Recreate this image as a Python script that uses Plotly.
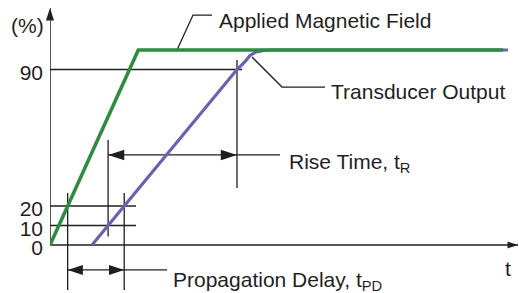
import numpy as np
import plotly.graph_objects as go

# ---------------- data (time in arbitrary units, amplitude in %) ----------------
field_t = [0.0, 8.83, 45.3]            # applied magnetic field
field_pct = [0, 100, 100]
output_t = [4.2, 18.7, 19.5, 20.0, 20.6, 21.4, 22.2, 45.8]   # transducer output
output_pct = [0, 90, 94, 97.2, 99.0, 99.8, 100, 100]
tick_vals = [0, 10, 20, 90]
tick_text = ["0", "10", "20", "90"]
pd_level = 20                 # propagation delay reference level
rise_low, rise_high = 10, 90  # rise time reference levels

# ---------------- derived crossing times ----------------
t_field_pd = float(np.interp(pd_level, field_pct[:2], field_t[:2]))
t_out_pd = float(np.interp(pd_level, output_pct, output_t))
t_out_lo = float(np.interp(rise_low, output_pct, output_t))
t_out_hi = float(np.interp(rise_high, output_pct, output_t))

# ---------------- layout constants ----------------
X_RANGE = [0, 46.9]
Y_RANGE = [-24.615, 125.641]
INK = "#1f1f1f"
GREEN = "#2e8b3f"
PURPLE = "#6a62b0"
FONT = "Liberation Sans, Arial, sans-serif"

fig = go.Figure()

def seg(xs, ys, width=1.3, color=INK):
    fig.add_trace(go.Scatter(x=xs, y=ys, mode="lines",
                             line=dict(color=color, width=width),
                             hoverinfo="skip", showlegend=False))

# axes
seg([0, 0], [0, 121.5], 1.5)
seg([0, 46.8], [0, 0], 1.5)

# level lines
seg([0, 19.2], [rise_high, rise_high])
seg([0, 8.6], [pd_level, pd_level])
seg([0, 8.6], [rise_low, rise_low])

# vertical markers
seg([t_field_pd, t_field_pd], [26.7, -23.1])
seg([t_out_pd, t_out_pd], [26.7, -23.1])
seg([t_out_lo, t_out_lo], [53.8, 4.3])
seg([t_out_hi, t_out_hi], [94.9, 29.2])

# dimension lines
rise_y = 46.2
pd_y = -12.8
seg([t_out_lo, 23.0], [rise_y, rise_y])
seg([t_field_pd, 11.7], [pd_y, pd_y])

# leaders
seg([12.7, 14.3, 16.2], [100, 117.9, 117.9])
seg([20.2, 23.2, 27.5], [96.4, 81.0, 81.0])

# signals
fig.add_trace(go.Scatter(x=output_t, y=output_pct, mode="lines",
                         line=dict(color=PURPLE, width=3.2),
                         hoverinfo="skip", showlegend=False))
fig.add_trace(go.Scatter(x=field_t, y=field_pct, mode="lines",
                         line=dict(color=GREEN, width=3.6),
                         hoverinfo="skip", showlegend=False))

# arrow heads
def heads(xs, ys, angles, size):
    fig.add_trace(go.Scatter(x=xs, y=ys, mode="markers",
                             marker=dict(symbol="arrow", size=size, angle=angles,
                                         color=INK, line=dict(width=0)),
                             hoverinfo="skip", showlegend=False, cliponaxis=False))

heads([0], [121.5], [0], 13)
heads([46.8], [0], [90], 11)
heads([t_out_lo, t_out_hi], [rise_y, rise_y], [-90, 90], 17)
heads([t_field_pd, t_out_pd], [pd_y, pd_y], [-90, 90], 16)

# labels
def label(x, y, text, xanchor="left", xref="x"):
    fig.add_annotation(x=x, y=y, xref=xref, yref="y", text=text, showarrow=False,
                       xanchor=xanchor, yanchor="middle",
                       font=dict(family=FONT, size=21, color=INK))

label(-23 / 469, 112.8, "(%)", "center", "paper")
label(16.7, 115.0, "Applied Magnetic Field")
label(27.9, 78.7, "Transducer Output")
label(23.7, 42.0, "Rise Time, t<sub>R</sub>")
label(12.1, -18.5, "Propagation Delay, t<sub>PD</sub>")
label(45.8, -12.3, "t", "center")

fig.update_layout(
    width=519, height=293,
    margin=dict(l=50, r=0, t=0, b=0),
    paper_bgcolor="white", plot_bgcolor="white",
    xaxis=dict(range=X_RANGE, showgrid=False, zeroline=False,
               showticklabels=False, ticks="", showline=False, fixedrange=True),
    yaxis=dict(range=Y_RANGE, showgrid=False, zeroline=False, showline=False,
               tickvals=tick_vals, ticktext=tick_text, ticks="",
               ticklabelstandoff=6, ticklabelshift=3,
               tickfont=dict(family=FONT, size=21, color=INK), fixedrange=True),
)

fig.write_html("out.html", config={"displayModeBar": False},
               post_script="document.body.style.margin='0';")
